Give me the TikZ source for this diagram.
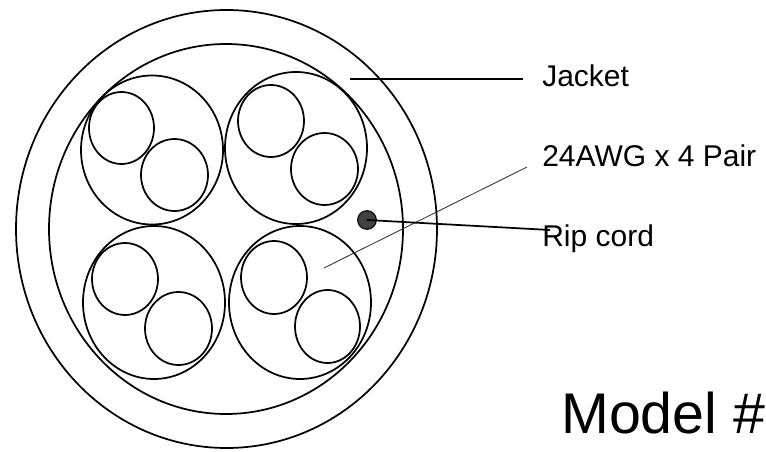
\documentclass[tikz,border=0pt]{standalone}
\usepackage{fontspec}
\setmainfont{Liberation Sans}
\usetikzlibrary{shapes.geometric}

\begin{document}
\begin{tikzpicture}[
    x=0.75pt, y=-0.75pt,
    ring/.style 2 args={ellipse, draw=black, line width=1.3pt, inner sep=0pt, outer sep=0pt, minimum width=#1*0.75pt, minimum height=#2*0.75pt},
    label/.style={anchor=base west, inner sep=0pt, font=\fontsize{22.5pt}{26pt}\selectfont},
    title/.style={anchor=base west, inner sep=0pt, font=\fontsize{43pt}{50pt}\selectfont},
    leader/.style={draw=black, line width=1.3pt},
    thinleader/.style={draw=black!80, line width=0.65pt}
]
\useasboundingbox (0,0) rectangle (766,452);

% Jacket
\node[ring={421}{438}] (jacket) at (226.5,229) {};
\node[ring={354}{370}] (shield) at (226,229) {};

% Pairs
\node[ring={142}{149}] (pairA) at (152,150) {};
\node[ring={65}{72}] (pairAa) at (121.5,128) {};
\node[ring={67}{72}] (pairAb) at (174.5,175) {};

\node[ring={142}{152}] (pairB) at (296,148) {};
\node[ring={66}{72}] (pairBa) at (271,121) {};
\node[ring={67}{72}] (pairBb) at (324.5,169) {};

\node[ring={142}{153}] (pairC) at (154,302.5) {};
\node[ring={66}{72}] (pairCa) at (125,279) {};
\node[ring={67}{73}] (pairCb) at (178.5,328.5) {};

\node[ring={142}{153}] (pairD) at (300,302.5) {};
\node[ring={66}{73}] (pairDa) at (274,277.5) {};
\node[ring={65}{73}] (pairDb) at (327.5,326.5) {};

% Rip cord
\node[circle, draw=black, fill=black!75, line width=0.8pt, inner sep=0pt, minimum size=14pt] (ripdot) at (367,220) {};

% Labels
\node[label] (jacketlabel) at (542,87) {Jacket};
\node[label] (pairlabel) at (542,167) {24AWG x 4 Pair};
\node[label] (riplabel) at (542,246.5) {Rip cord};
\node[title] (modellabel) at (561,433) {Model \#};

% Leaders
\coordinate (jacketstart) at (350,79);
\coordinate (jacketend) at (523,79);
\coordinate (pairstart) at (324,268);
\coordinate (pairend) at (527,167);
\coordinate (ripend) at (550,230);
\draw[leader] (jacketstart) -- (jacketend);
\draw[thinleader] (pairstart) -- (pairend);
\draw[leader] (ripdot.center) -- (ripend);

\end{tikzpicture}
\end{document}
